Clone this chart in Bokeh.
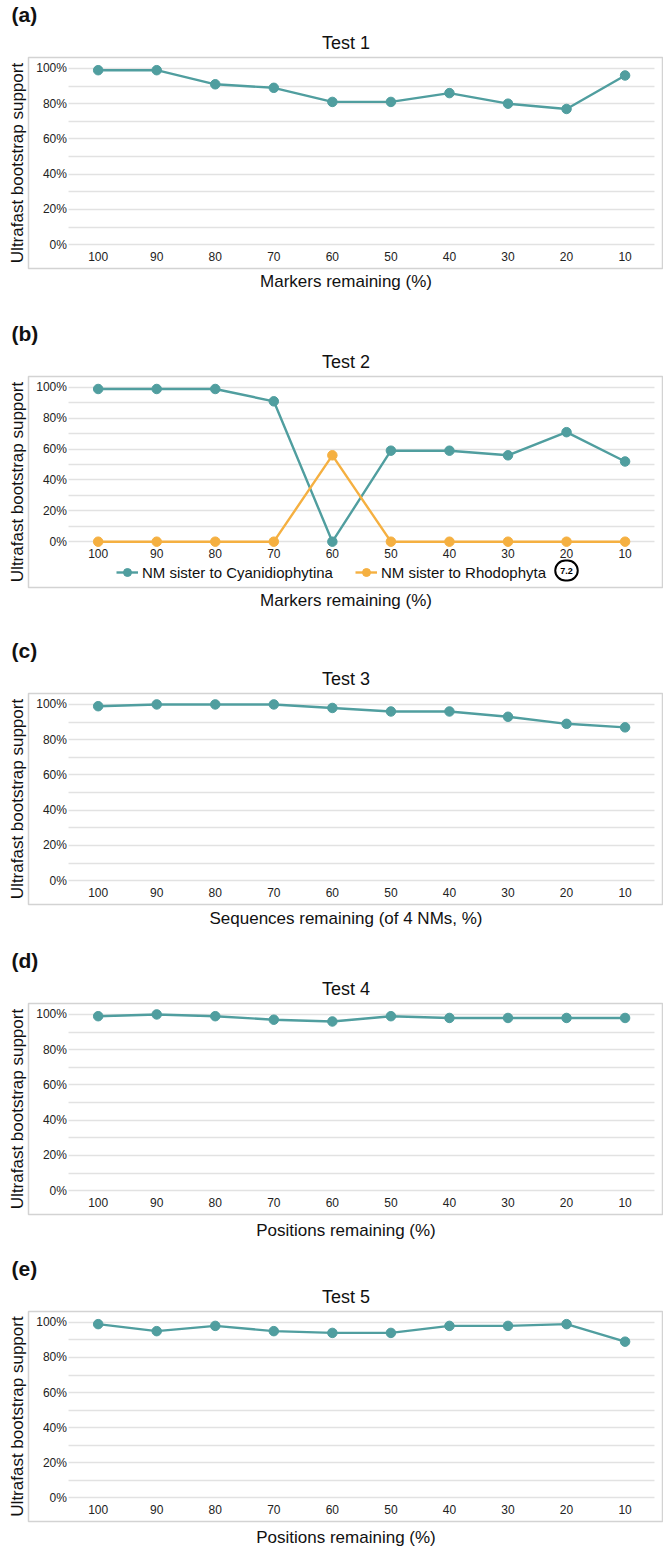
from bokeh.plotting import figure
from bokeh.layouts import column
from bokeh.models import (Range1d, FixedTicker, PrintfTickFormatter, Title,
                          Legend, LegendItem, Label)
from bokeh.embed import file_html
from bokeh.resources import INLINE

# ---------------- data ----------------
x_labels = ["100", "90", "80", "70", "60", "50", "40", "30", "20", "10"]
test1 = [99, 99, 91, 89, 81, 81, 86, 80, 77, 96]
test2_cyanidio = [99, 99, 99, 91, 0, 59, 59, 56, 71, 52]
test2_rhodo = [0, 0, 0, 0, 56, 0, 0, 0, 0, 0]
test3 = [99, 100, 100, 100, 98, 96, 96, 93, 89, 87]
test4 = [99, 100, 99, 97, 96, 99, 98, 98, 98, 98]
test5 = [99, 95, 98, 95, 94, 94, 98, 98, 99, 89]
y_major = [0, 20, 40, 60, 80, 100]
y_minor = [10, 30, 50, 70, 90]
legend_labels = ["NM sister to Cyanidiophytina", "NM sister to Rhodophyta"]

x_pos = list(range(1, len(x_labels) + 1))

TEAL = "#509e9f"
ORANGE = "#f5b041"
GRID = "#e2e2e2"
BOX = "#d3d3d3"
FONT = "Liberation Sans"
TXT = "#111111"


def make_panel(letter, title, xlabel, series, height, xstand=3, legend=None):
    top = 56
    frame_h = 212
    yr = Range1d(-29.7, 107.1) if legend else Range1d(-13.5, 106.2)
    p = figure(width=663, height=height, x_range=Range1d(-0.19, 10.656), y_range=yr,
               output_backend="svg", toolbar_location=None, title=None,
               min_border_left=28, min_border_right=0,
               min_border_top=top, min_border_bottom=height - top - frame_h,
               outline_line_color=BOX, outline_line_width=1.5,
               background_fill_color="white", border_fill_color="white")

    p.add_layout(Title(text=title, align="center", offset=-7.5, text_font=FONT,
                       text_font_size="18px", text_font_style="normal",
                       text_color=TXT, standoff=10), "above")
    p.add_layout(Title(text=letter, align="left", offset=-17, text_font=FONT,
                       text_font_size="21px", text_font_style="bold",
                       text_color=TXT, standoff=0), "above")
    p.add_layout(Title(text="Ultrafast bootstrap support", align="center", text_font=FONT,
                       text_font_size="17px", text_font_style="normal",
                       text_color=TXT, standoff=3), "left")
    p.add_layout(Title(text=xlabel, align="center", text_font=FONT,
                       text_font_size="17px", text_font_style="normal",
                       text_color=TXT, standoff=xstand), "below")

    # axes drawn inside the box
    p.yaxis.ticker = FixedTicker(ticks=y_major, minor_ticks=y_minor)
    p.yaxis.formatter = PrintfTickFormatter(format="%d%%")
    p.yaxis.fixed_location = 0.5
    p.xaxis.ticker = FixedTicker(ticks=x_pos)
    p.xaxis.major_label_overrides = {xp: lbl for xp, lbl in zip(x_pos, x_labels)}
    p.xaxis.fixed_location = 0
    for ax in (p.xaxis[0], p.yaxis[0]):
        ax.axis_line_color = None
        ax.major_tick_line_color = None
        ax.minor_tick_line_color = None
        ax.major_tick_out = 0
        ax.major_tick_in = 0
        ax.minor_tick_out = 0
        ax.major_label_text_font = FONT
        ax.major_label_text_font_size = "12px"
        ax.major_label_text_color = "#222222"
    p.yaxis.major_label_standoff = 2
    p.xaxis.major_label_standoff = 7

    p.xgrid.grid_line_color = None
    p.ygrid.grid_line_color = GRID
    p.ygrid.grid_line_width = 1.3
    p.ygrid.minor_grid_line_color = GRID
    p.ygrid.minor_grid_line_width = 1.3
    p.ygrid.cross_bounds = (0.5, 10.51)

    renderers = []
    for vals, color in series:
        l = p.line(x_pos, vals, line_color=color, line_width=2.4)
        s = p.scatter(x_pos, vals, size=9.5, fill_color=color, line_color=color)
        renderers.append((l, s))

    if legend:
        items = [LegendItem(label=lbl, renderers=list(r)) for lbl, r in zip(legend, renderers)]
        lg = Legend(items=items, orientation="horizontal", location=(88, 5), padding=2,
                    margin=0, spacing=22, label_standoff=4, glyph_width=22, glyph_height=20,
                    label_height=20, border_line_color=None, background_fill_alpha=0,
                    label_text_font=FONT, label_text_font_size="15px", label_text_color=TXT)
        p.add_layout(lg)
        p.add_layout(Label(x=538, y=17, x_units="screen", y_units="screen", text="7.2",
                           text_align="center", text_baseline="middle", text_font=FONT,
                           text_font_size="9px", text_font_style="bold", text_color="black",
                           padding=dict(left=5, right=5, top=7, bottom=7), border_radius=11,
                           border_line_color="black", border_line_width=2,
                           background_fill_color="white"))
    return p


pa = make_panel("(a)", "Test 1", "Markers remaining (%)", [(test1, TEAL)], 319)
pb = make_panel("(b)", "Test 2", "Markers remaining (%)",
                [(test2_cyanidio, TEAL), (test2_rhodo, ORANGE)], 317, legend=legend_labels)
pc = make_panel("(c)", "Test 3", "Sequences remaining (of 4 NMs, %)", [(test3, TEAL)], 310,
                xstand=4)
pd_ = make_panel("(d)", "Test 4", "Positions remaining (%)", [(test4, TEAL)], 308, xstand=8)
pe = make_panel("(e)", "Test 5", "Positions remaining (%)", [(test5, TEAL)], 296, xstand=8)

layout = column(pa, pb, pc, pd_, pe, spacing=0)
open("out.html", "w").write(file_html(layout, INLINE))
